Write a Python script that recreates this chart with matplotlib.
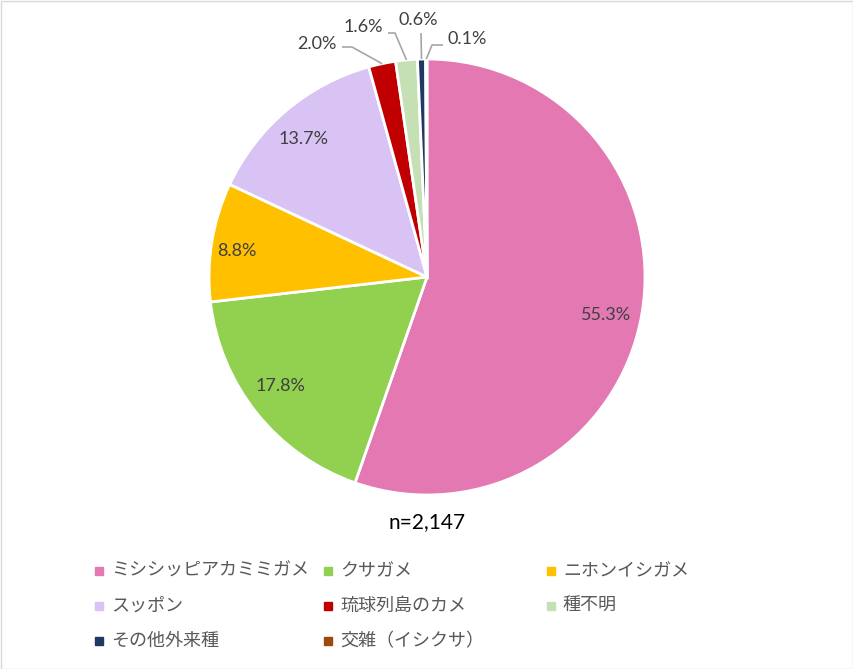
import matplotlib
matplotlib.use("Agg")
import matplotlib.pyplot as plt
from matplotlib.patches import Rectangle
import numpy as np

categories = ["ミシシッピアカミミガメ", "クサガメ", "ニホンイシガメ", "スッポン",
              "琉球列島のカメ", "種不明", "その他外来種", "交雑（イシクサ）"]
values = [55.3, 17.8, 8.8, 13.7, 2.0, 1.6, 0.6, 0.1]
colors = ["#E378B2", "#92D050", "#FFC000", "#D9C3F5",
          "#C00000", "#C5E0B4", "#203864", "#9E480E"]
total_text = "n=2,147"

W, H = 854, 669
fig = plt.figure(figsize=(W / 100, H / 100), dpi=100)
ax = fig.add_axes([0, 0, 1, 1])
ax.set_xlim(0, W)
ax.set_ylim(0, H)
ax.set_aspect("equal")
ax.axis("off")

cx, cy, R = 427, H - 277, 218
wedges, _ = ax.pie(values, colors=colors, startangle=90, counterclock=False,
                   center=(cx, cy), radius=R, normalize=True,
                   wedgeprops=dict(edgecolor="white", linewidth=2))
ax.set_xlim(0, W)
ax.set_ylim(0, H)

num_font = ["Lato", "DejaVu Sans"]
lab_color = "#404040"
line_color = "#A6A6A6"

# label positions (pixel, top-left origin) -- layout
label_pos = [(606, 315), (280, 386), (237, 251), (304, 139),
             (317, 44), (363, 27), (418, 20), (467, 39)]
# leader-line elbows (pixel) for the small slices, None for inside labels
elbows = [None, None, None, None,
          [(352, 47), (342, 47)],
          [(395, 33), (388, 33)],
          [(421, 33)],
          [(432, 45), (443, 45)]]

for i, w in enumerate(wedges):
    lx, ly = label_pos[i]
    ax.text(lx, H - ly, f"{values[i]:.1f}%", ha="center", va="center",
            fontsize=13, color=lab_color, family=num_font)
    if elbows[i] is not None:
        th = np.deg2rad((w.theta1 + w.theta2) / 2)
        ex, ey = cx + R * np.cos(th), cy + R * np.sin(th)
        xs = [ex] + [p[0] for p in elbows[i]]
        ys = [ey] + [H - p[1] for p in elbows[i]]
        ax.plot(xs, ys, color=line_color, lw=1.2, solid_capstyle="butt")

ax.text(cx, H - 522, total_text, ha="center", va="center", fontsize=15,
        color="black", family=num_font)

# legend (manual grid)
col_x = [99, 328, 551]
row_y = [571, 606, 641]
jp_font = ["Noto Sans CJK JP", "DejaVu Sans"]
for i, (lab, c) in enumerate(zip(categories, colors)):
    r, col = divmod(i, 3)
    x, y = col_x[col], H - row_y[r]
    ax.plot([x], [y], marker="s", ms=6, color=c, mec=c, linestyle="none")
    ax.text(x + 12, y, lab, ha="left", va="center", fontsize=13,
            color="#595959", family=jp_font)

fig.patches.append(Rectangle((0.5 / W, 0.5 / H), 1 - 1.5 / W, 1 - 1.5 / H,
                             transform=fig.transFigure, fill=False,
                             edgecolor="#D9D9D9", lw=1))
fig.savefig("out.png", dpi=100, facecolor="white")
